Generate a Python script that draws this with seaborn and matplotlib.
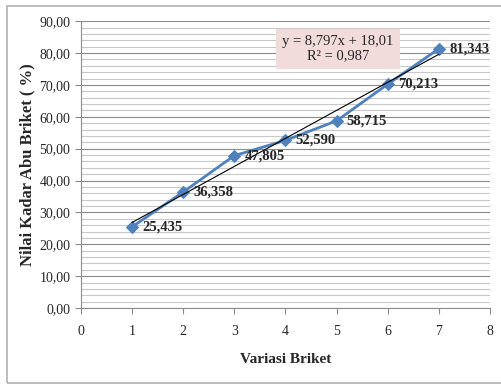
import numpy as np
import pandas as pd
import matplotlib
matplotlib.use("Agg")
import matplotlib.pyplot as plt
import seaborn as sns
from matplotlib.ticker import MultipleLocator, FuncFormatter

# data
variasi = [1, 2, 3, 4, 5, 6, 7]
kadar_abu = [25.435, 36.358, 47.805, 52.590, 58.715, 70.213, 81.343]
labels = ["25,435", "36,358", "47,805", "52,590", "58,715", "70,213", "81,343"]

df = pd.DataFrame({"x": variasi, "y": kadar_abu})

sns.set_style("white")
plt.rcParams['font.family'] = ['Liberation Serif', 'DejaVu Serif']

fig = plt.figure(figsize=(5.02, 3.85), dpi=100)
ax = fig.add_axes([0.161, 0.200, 0.815, 0.745])

# outer border (right edge falls outside the picture)
fig.patches.append(plt.Rectangle((0.014, 0.006), 1.0, 0.978, transform=fig.transFigure,
                                 fill=False, edgecolor="#b0b0b0", linewidth=1.2))

sns.lineplot(data=df, x="x", y="y", ax=ax, color="#4F81BD", linewidth=2,
             marker="D", markersize=6, markeredgecolor="#4F81BD")

# linear trend
slope, intercept = np.polyfit(variasi, kadar_abu, 1)
xs = np.array([1, 7])
ax.plot(xs, slope * xs + intercept, color="black", linewidth=0.8)

for xv, yv, lab in zip(variasi, kadar_abu, labels):
    ax.text(xv + 0.2, yv, lab, fontsize=10.5, fontweight="bold", va="center", ha="left")

ax.text(5.03, 81.3, "y = 8,797x + 18,01\nR² = 0,987", fontsize=10.5, ha="center", va="center",
        linespacing=1.15,
        bbox=dict(boxstyle="square,pad=0.45", facecolor="#F2DCDB", edgecolor="none"))

ax.set_xlim(0, 8)
ax.set_ylim(0, 90)
ax.xaxis.set_major_locator(MultipleLocator(1))
ax.yaxis.set_major_locator(MultipleLocator(10))
ax.yaxis.set_minor_locator(MultipleLocator(2))
ax.yaxis.set_major_formatter(FuncFormatter(lambda v, p: f"{v:.2f}".replace(".", ",")))

ax.grid(axis="y", which="major", color="#8c8c8c", linewidth=0.8)
ax.grid(axis="y", which="minor", color="#c8c8c8", linewidth=0.8)
ax.set_axisbelow(True)

for s in ["top", "right"]:
    ax.spines[s].set_visible(False)
ax.spines["left"].set_color("#8c8c8c")
ax.spines["bottom"].set_color("#8c8c8c")
ax.tick_params(axis="both", which="major", direction="out", length=4, color="#8c8c8c",
               labelsize=10, bottom=True, left=True)
ax.tick_params(axis="x", pad=8)

ax.set_xlabel("Variasi Briket", fontsize=11, fontweight="bold", labelpad=11)
ax.set_ylabel("Nilai Kadar Abu Briket ( %)", fontsize=12, fontweight="bold", labelpad=3)

fig.savefig("out.png", dpi=100)
